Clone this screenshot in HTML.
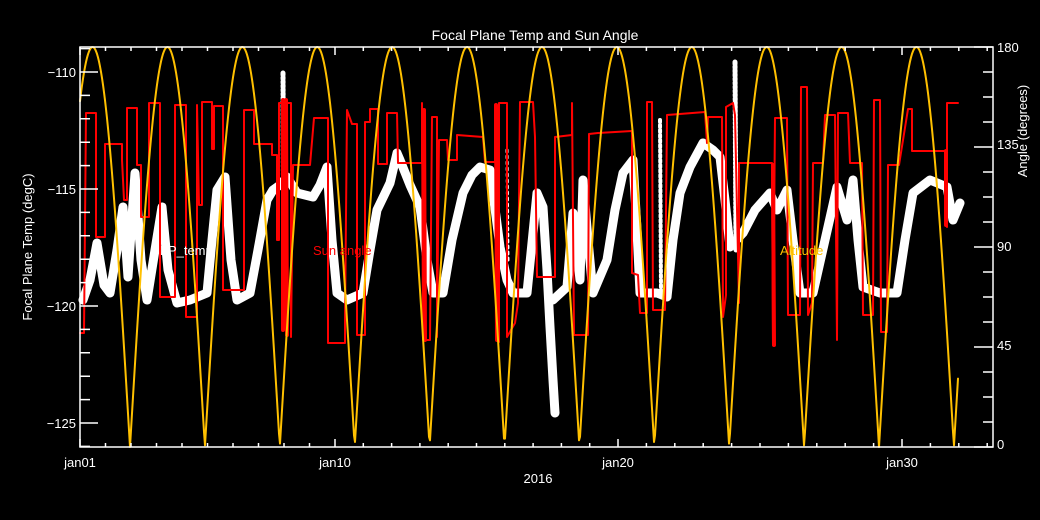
<!DOCTYPE html>
<html><head><meta charset="utf-8"><style>
html,body{margin:0;padding:0;background:#000;}
svg{display:block;font-family:"Liberation Sans",sans-serif;}
</style></head><body>
<svg id="s" width="1040" height="520" viewBox="0 0 1040 520" xmlns="http://www.w3.org/2000/svg">
<rect width="1040" height="520" fill="#000"/>
<g fill="none" stroke-linejoin="round" stroke-linecap="round">
<polyline stroke="#fff" stroke-width="9" points="83,300 90,280 97,243 104,285 110,293 117,250 123,207 128,277 135,173 141,260 147,300 155,250 162,207 168,270 177,303 190,300 207,293 212,240 217,190 225,177 231,260 237,300 250,293 258,250 267,200 273,190 280,185 287,177 297,193 313,197 320,185 327,167 332,240 337,293 347,300 363,293 370,250 377,210 390,183 397,153 400,160 410,185 420,207 427,260 433,293 443,293 452,240 463,193 472,175 480,167 490,170 500,247 507,280 513,293 527,293 537,193 543,207 547,270 550,327 553,380 555,413"/>
<polyline stroke="#fff" stroke-width="9" points="553,300 567,287 573,213 580,280 583,180 588,240 593,293 607,260 615,210 623,173 633,160 637,230 640,293 657,293 667,297 673,240 680,193 690,167 703,143 713,150 720,157 725,200 730,247 743,233 755,210 770,193 777,210 787,190 793,240 800,293 813,293 825,240 837,187 847,220 853,180 858,240 863,287 880,293 897,293 905,240 913,193 930,180 947,187 953,220 960,203"/>
<polyline stroke="#fff" stroke-width="5" stroke-dasharray="2 2" points="283,73 284,300"/>
<polyline stroke="#fff" stroke-width="4" stroke-dasharray="2 3" points="660,120 661,290"/>
<polyline stroke="#fff" stroke-width="5" stroke-dasharray="2 2" points="735,62 736,250"/>
<polyline stroke="#fff" stroke-width="3" stroke-dasharray="2 4" points="507,150 508,260"/>
<polyline stroke="#f00" stroke-width="2" points="80,333 84,333 86,113 96,113 96,237 105,237 105,144 122,144 122,160 124,200 127,200 127,108 137,108 137,165 141,165 141,217 149,217 149,103 160,103 160,297 175,297 175,105 186,105 186,317 197,317 197,105 199,205 202,205 202,102 212,102 212,149 214,149 214,106 223,106 223,290 244,290 244,110 254,110 254,144 272,144 272,155 277,155 277,240 279,240 279,103 291,103 291,337 293,165 310,165 314,118 328,118 328,343 345,343 345,322 347,110 352,124 357,124 357,335 365,335 365,122 370,122 370,109 378,109 378,164 387,164 387,113 397,113 398,163 422,163 422,103 423,340 430,340 432,117 437,117 437,337 439,140 447,140 448,160 457,160 457,135 483,137 485,162 495,162 495,105 499,342 499,103 507,103 507,337 515,323 518,303 520,102 533,102 535,137 537,277 555,277 555,137 572,135 572,103 574,335 588,335 589,134 598,133 632,131 632,273 638,275 640,313 647,313 647,102 652,102 653,310 665,310 667,115 705,112 707,143 708,117 722,117 723,317 726,295 726,107 733,103 735,115 739,303 739,163 772,163 773,345 775,118 787,118 788,315 800,315 801,87 807,87 808,315 812,303 813,163 823,163 825,115 835,115 837,340 838,113 848,113 850,163 862,163 863,315 873,315 874,100 880,100 881,332 887,332 888,165 899,165 908,109 912,109 912,151 945,151 947,227 947,103 958,103"/>
<polyline stroke="#f00" stroke-width="4" points="283,100 283,330"/>
<polyline stroke="#f00" stroke-width="4" points="286,100 287,335"/>
<polyline stroke="#f00" stroke-width="4" points="496,105 497,340"/>
<polyline stroke="#f00" stroke-width="4" points="424,110 425,340"/>
<polyline stroke="#f00" stroke-width="4" points="773,165 774,345"/>
<polyline stroke="#f00" stroke-width="4" points="946,151 946,225"/>
<polyline id="yel" stroke="#ffc000" stroke-width="2" points=""/>
</g>
<g id="ax" stroke="#fff" stroke-width="1.5" fill="none">
<rect x="80" y="47" width="913" height="400"/>
</g>
<g fill="#fff" font-size="13">
<text x="535" y="40" text-anchor="middle" font-size="14">Focal Plane Temp and Sun Angle</text>
<text x="538" y="483" text-anchor="middle">2016</text>
<text x="80" y="467" text-anchor="middle">jan01</text>
<text x="335" y="467" text-anchor="middle">jan10</text>
<text x="618" y="467" text-anchor="middle">jan20</text>
<text x="902" y="467" text-anchor="middle">jan30</text>
<text x="76" y="77" text-anchor="end">−110</text>
<text x="76" y="194" text-anchor="end">−115</text>
<text x="76" y="311" text-anchor="end">−120</text>
<text x="76" y="428" text-anchor="end">−125</text>
<text x="997" y="52">180</text>
<text x="997" y="149">135</text>
<text x="997" y="251">90</text>
<text x="997" y="350">45</text>
<text x="997" y="449">0</text>
<text transform="translate(32,247) rotate(-90)" text-anchor="middle">Focal Plane Temp (degC)</text>
<text transform="translate(1027,131) rotate(-90)" text-anchor="middle">Angle (degrees)</text>
<text x="160" y="255">FP_temp</text>
<text x="313" y="255" fill="#f00">Sun angle</text>
<text x="780" y="255" fill="#ffc000">Altitude</text>
</g>
<script>
var p=[];for(var x=80;x<=958;x+=1){var a=180*Math.abs(Math.sin(Math.PI*(x-130)/74.9));p.push(x+","+(447-a*400/180).toFixed(1));}
document.getElementById("yel").setAttribute("points",p.join(" "));
var g=document.getElementById("ax"),d="";
function L(x1,y1,x2,y2){d+="M"+x1+" "+y1+"L"+x2+" "+y2;}
var maj=[80,335,618,902];
for(var i=0;i<3;i++){var a=maj[i],b=maj[i+1];for(var k=0;k<10;k++){var x=a+(b-a)*k/10;var l=k==0?8:4;L(x,447,x,447-l);L(x,47,x,47+l);}}
var sp=(maj[3]-maj[2])/10;for(var k=0;k*sp+902<993;k++){var x=902+k*sp;var l=k==0?8:4;L(x,447,x,447-l);L(x,47,x,47+l);}
for(var v=-126;v<=-109;v++){var y=72+(-110-v)*23.4;if(y<47||y>447)continue;var l=(v%5==0)?18:10;L(80,y,80+l,y);}
for(var k=0;k<=16;k++){var y=447-k*25;var l=(k%4==0)?19:10;L(993,y,993-l,y);}
var pa=document.createElementNS("http://www.w3.org/2000/svg","path");pa.setAttribute("d",d);g.appendChild(pa);
</script>
</svg>
</body></html>
